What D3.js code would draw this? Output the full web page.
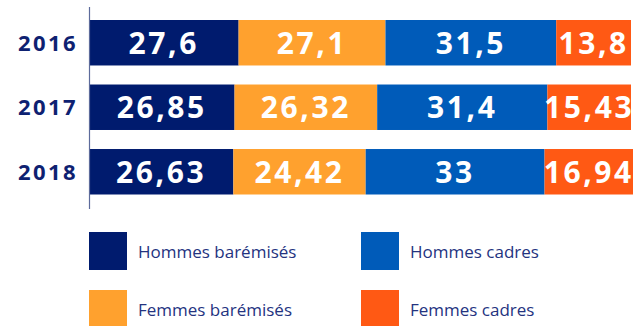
<!DOCTYPE html>
<html>
<head>
<meta charset="utf-8">
<script src="https://cdn.jsdelivr.net/npm/d3@7"></script>
<style>
  html, body { margin: 0; padding: 0; background: #fff; }
  svg { display: block; }
</style>
</head>
<body>
<svg id="chart" width="633" height="326"></svg>
<script>
// Répartition des effectifs par catégorie (%)
const years = ["2016", "2017", "2018"];
const seriesNames = ["Hommes barémisés", "Femmes barémisés", "Hommes cadres", "Femmes cadres"];
const hommesBaremises = [27.6, 26.85, 26.63];
const femmesBaremises = [27.1, 26.32, 24.42];
const hommesCadres = [31.5, 31.4, 33];
const femmesCadres = [13.8, 15.43, 16.94];
const seriesColors = ["#001b6e", "#ffa12e", "#005bb9", "#ff5914"];

const seriesValues = [hommesBaremises, femmesBaremises, hommesCadres, femmesCadres];
const rows = years.map((y, i) => {
  const r = { year: y };
  seriesNames.forEach((s, k) => { r[s] = seriesValues[k][i]; });
  return r;
});

const svg = d3.select("#chart");
const x = d3.scaleLinear().domain([0, 100]).range([89, 631]);
const y = d3.scaleBand().domain(years).range([20, 194.5]).paddingInner(0.295).paddingOuter(0);

const stack = d3.stack().keys(seriesNames)(rows);
const fmt = v => String(v).replace(".", ",");

const layers = svg.append("g").selectAll("g")
  .data(stack).join("g")
  .attr("fill", (d, i) => seriesColors[i]);

layers.selectAll("rect")
  .data(d => d).join("rect")
  .attr("x", d => x(d[0]))
  .attr("y", d => y(d.data.year))
  .attr("width", d => x(d[1]) - x(d[0]))
  .attr("height", y.bandwidth());

layers.selectAll("text")
  .data(d => d.map(p => ({ p, key: d.key }))).join("text")
  .attr("x", d => (x(d.p[0]) + Math.min(x(d.p[1]), 633)) / 2)
  .attr("y", d => y(d.p.data.year) + y.bandwidth() / 2 + 11)
  .attr("text-anchor", "middle")
  .attr("fill", "#fff")
  .style("font-family", "'Open Sans', sans-serif")
  .style("font-weight", 700)
  .style("font-size", "30px")
  .style("letter-spacing", "2.6px")
  .text(d => fmt(d.p.data[d.key]));

// axe vertical des années
const yAxis = d3.axisLeft(y).tickSize(0).tickPadding(11);
const ga = svg.append("g").attr("transform", "translate(89,0)").call(yAxis);
ga.select(".domain").remove();
ga.selectAll("text")
  .attr("fill", "#0e2171")
  .attr("dy", "0.36em")
  .style("font-family", "'Open Sans', sans-serif")
  .style("font-weight", 700)
  .style("font-size", "22px")
  .style("letter-spacing", "2.4px");

svg.append("line")
  .attr("x1", 89.5).attr("x2", 89.5)
  .attr("y1", 7).attr("y2", 209)
  .attr("stroke", "#5d6b9b")
  .attr("stroke-width", 1.2);

// légende
const legendPos = [[89, 232], [89, 290], [361, 232], [361, 290]];
const legend = svg.append("g").selectAll("g")
  .data(seriesNames).join("g")
  .attr("transform", (d, i) => `translate(${legendPos[i][0]},${legendPos[i][1]})`);
legend.append("rect")
  .attr("width", 38).attr("height", 38)
  .attr("fill", (d, i) => seriesColors[i]);
legend.append("text")
  .attr("x", 49).attr("y", 26)
  .attr("fill", "#24337f")
  .style("font-family", "'Open Sans', sans-serif")
  .style("font-size", "17px")
  .text(d => d);
</script>
</body>
</html>
